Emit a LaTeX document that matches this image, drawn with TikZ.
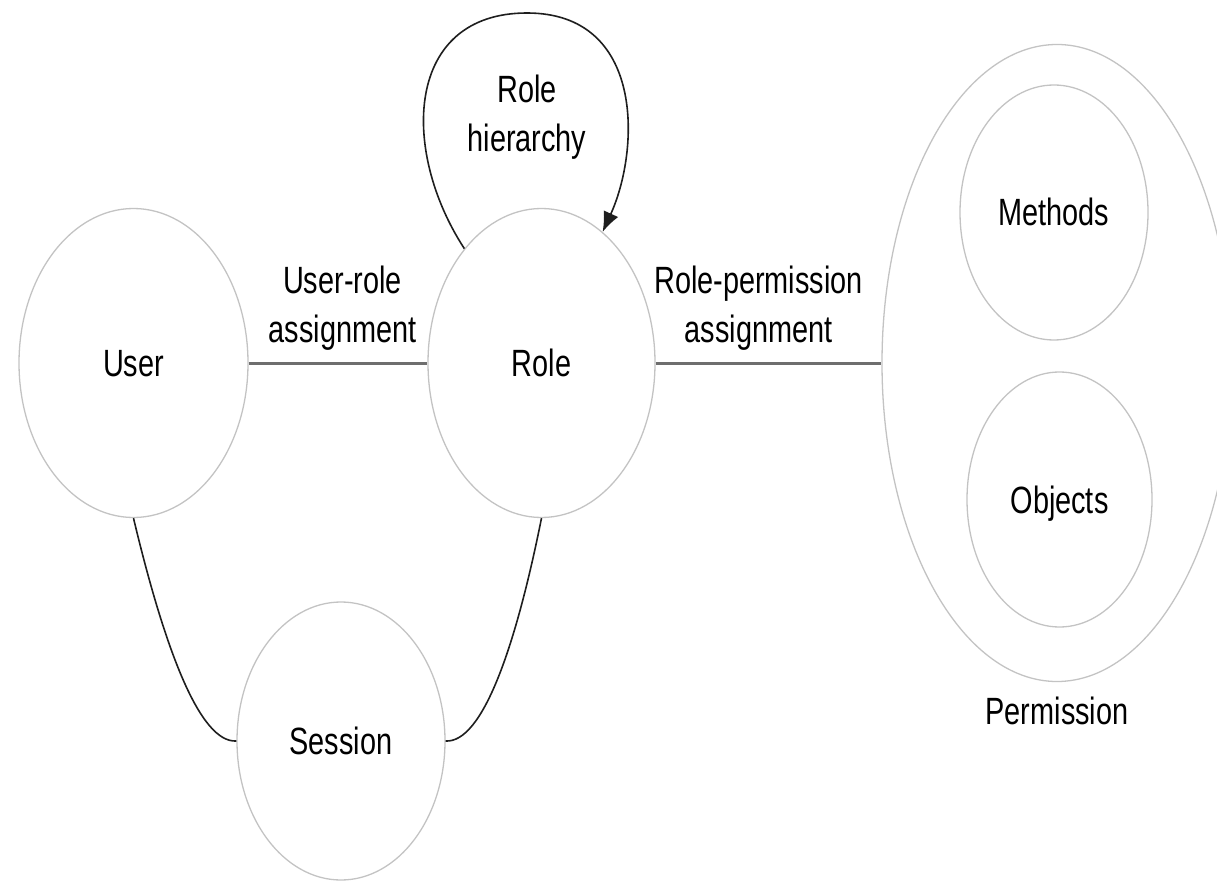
\documentclass[tikz,border=0pt]{standalone}
\usepackage{fontspec}
\setmainfont{Liberation Sans}[FakeStretch=0.76]
\usetikzlibrary{shapes.geometric,arrows.meta}
\definecolor{ellgray}{RGB}{195,195,195}
\definecolor{linegray}{RGB}{110,110,110}
\definecolor{curvecol}{RGB}{30,30,30}
\begin{document}
\begin{tikzpicture}[x=1pt,y=-1pt,
  every node/.style={font=\fontsize{38}{49}\selectfont},
  bubble/.style={ellipse, draw=ellgray, line width=1.3pt, inner sep=0pt, text height=27pt, text depth=0pt},
  hline/.style={draw=linegray, line width=3pt},
  curve/.style={draw=curvecol, line width=1.6pt},
  tip/.style={-{Latex[length=20pt,width=16pt]}}]
\useasboundingbox (0,0) rectangle (1217,882);
\node[bubble, minimum width=229pt, minimum height=309pt] (user) at (133.5,363) {User};
\node[bubble, minimum width=227pt, minimum height=309pt] (role) at (541.5,363) {Role};
\node[bubble, minimum width=208pt, minimum height=278pt] (session) at (341,741) {Session};
\node[bubble, minimum width=350pt, minimum height=637pt] (perm) at (1057,363) {};
\node[bubble, minimum width=188pt, minimum height=255pt] (methods) at (1054,212.5) {Methods};
\node[bubble, minimum width=185pt, minimum height=255pt] (objects) at (1059.5,499.5) {Objects};
\node[text height=27pt, text depth=0pt] (permlabel) at (1057,711) {Permission};
\node[align=center] (ura) at (342.5,308) {User-role\\assignment};
\node[align=center] (rpa) at (758.5,308) {Role-permission\\assignment};
\node[align=center] (rh) at (527,117) {Role\\hierarchy};
\draw[hline] (user) -- (role);
\draw[hline] (role) -- (perm);
\draw[curve] (user.south) .. controls (165,650) and (200,743) .. (session.west);
\draw[curve] (role.south) .. controls (515,650) and (482,743) .. (session.east);
\draw[curve, tip] (role.124) .. controls (400,150) and (405,13) .. (527,13) .. controls (645,13) and (640,150) .. (role.65);
\end{tikzpicture}
\end{document}
